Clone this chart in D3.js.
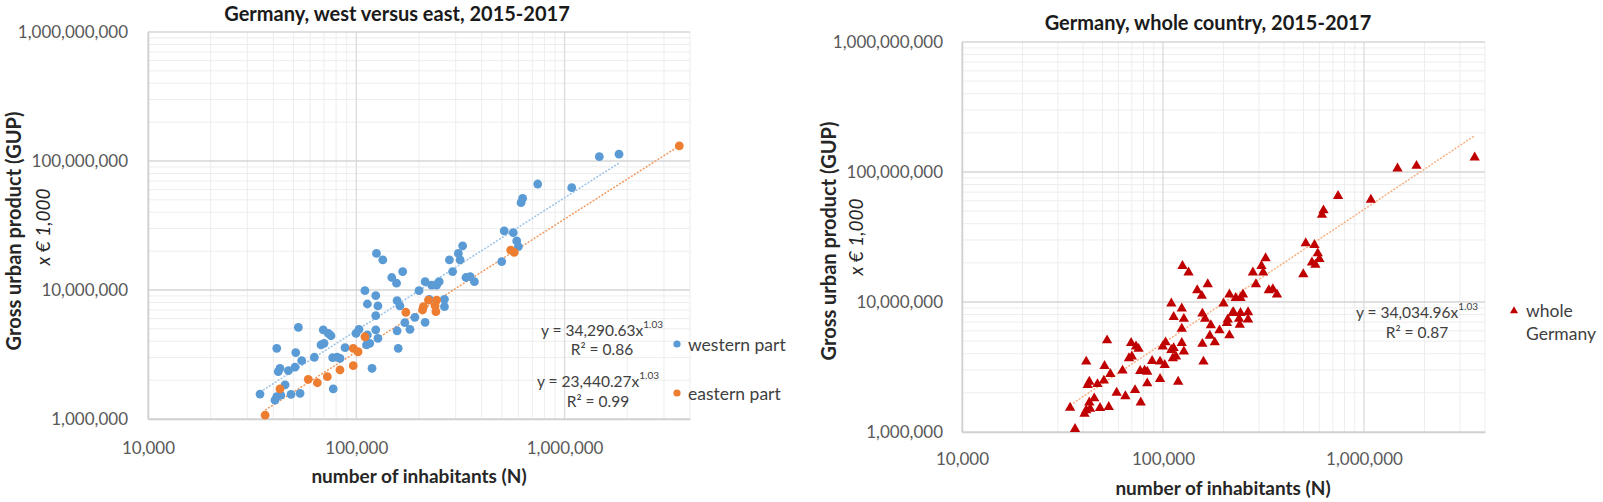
<!DOCTYPE html>
<html>
<head>
<meta charset="utf-8">
<script src="https://cdn.jsdelivr.net/npm/d3@7"></script>
<style>
  html, body { margin: 0; padding: 0; background: #ffffff; }
  svg { display: block; font-family: Lato, "Open Sans", sans-serif; }
</style>
</head>
<body>
<svg id="chart" width="1603" height="502"></svg>
<script>
// ---------------- DATA ----------------
// number of inhabitants (N) and gross urban product (x € 1,000)
const westInhabitants = [
  34500, 41500, 52700, 51200, 54700, 43000, 42200, 47200, 50800, 45500,
  41500, 40700, 43400, 48600, 53700, 62900, 67700, 70000, 69400, 73400,
  75600, 77000, 81000, 83500, 77500, 88300, 99700, 103000, 112000, 116000,
  119000, 124000, 127000, 124000, 110000, 113000, 124000, 127000, 148000, 156000,
  157000, 157000, 159000, 125000, 134000, 167000, 214000, 230000, 250000, 243000,
  200000, 162000, 224000, 265000, 265000, 191000, 214000, 171000, 181000, 113000,
  324000, 309000, 315000, 280000, 290000, 336000, 352000, 369000, 1468000, 1825000,
  743000, 1082000, 629000, 618000, 513000, 567000, 589000, 600000, 499000
];
const westGUP = [
  1560000, 3530000, 5140000, 3270000, 2830000, 2470000, 2330000, 2370000, 2520000, 1840000,
  1490000, 1400000, 1530000, 1550000, 1580000, 3010000, 3750000, 3860000, 4900000, 4610000,
  4420000, 2990000, 3010000, 2950000, 1710000, 3570000, 4610000, 4960000, 3750000, 3860000,
  2470000, 4900000, 4220000, 6320000, 9880000, 7790000, 9030000, 7520000, 12500000, 11300000,
  8260000, 4830000, 3530000, 19200000, 17100000, 13900000, 11600000, 10900000, 11600000, 10900000,
  9880000, 7520000, 8470000, 8470000, 7430000, 6140000, 5620000, 5580000, 4960000, 4480000,
  22000000, 19200000, 17100000, 17100000, 13900000, 12500000, 12700000, 11600000, 108000000, 113000000,
  66300000, 62100000, 51400000, 47500000, 28700000, 27800000, 24000000, 21700000, 16600000
];
const eastInhabitants = [
  36500, 43000, 58800, 65000, 72600, 83500, 96700, 96700, 102000, 110000,
  173000, 210000, 222000, 243000, 239000, 241000, 208000, 551000, 573000, 3554000
];
const eastGUP = [
  1070000, 1710000, 2030000, 1910000, 2130000, 2400000, 2590000, 3530000, 3320000, 4340000,
  6720000, 7430000, 8360000, 8360000, 7520000, 6790000, 7000000, 20400000, 19600000, 131000000
];

// power-law trendlines as printed on the chart (y = a · x^b, a given in €), plus R²
const westFit  = [34290.63, 1.03, 0.86];
const eastFit  = [23440.27, 1.03, 0.99];
const wholeFit = [34034.96, 1.03, 0.87];

const xDomain = [10000, 4000000];
const yDomain = [1000000, 1000000000];
const xTickLabels = [10000, 100000, 1000000];
const yTickLabels = [1000000, 10000000, 100000000, 1000000000];

const titles = ["Germany, west versus east, 2015-2017", "Germany, whole country, 2015-2017"];
const legendLabels = ["western part", "eastern part", "whole", "Germany"];

// ---------------- DRAWING ----------------
const svg = d3.select("#chart");
const fmt = d3.format(",");
const fmt2 = d3.format(",.2f");

function zip(xs, ys) { return xs.map((x, i) => ({ n: x, g: ys[i] })); }

function drawPanel(p) {
  const g = svg.append("g");
  const x = d3.scaleLog().domain(xDomain).range([p.left, p.right]);
  const y = d3.scaleLog().domain(yDomain).range([p.bottom, p.top]);

  // minor gridlines
  const xAll = x.ticks(), yAll = y.ticks();
  const isMajor = v => Math.abs(Math.log10(v) - Math.round(Math.log10(v))) < 1e-9;
  g.append("g").selectAll("line").data(xAll.filter(v => !isMajor(v))).join("line")
    .attr("x1", d => x(d)).attr("x2", d => x(d)).attr("y1", p.top).attr("y2", p.bottom)
    .attr("stroke", "#ededed").attr("stroke-width", 1);
  g.append("g").selectAll("line").data(yAll.filter(v => !isMajor(v))).join("line")
    .attr("y1", d => y(d)).attr("y2", d => y(d)).attr("x1", p.left).attr("x2", p.right)
    .attr("stroke", "#ededed").attr("stroke-width", 1);
  // major gridlines
  g.append("g").selectAll("line").data(xAll.filter(isMajor)).join("line")
    .attr("x1", d => x(d)).attr("x2", d => x(d)).attr("y1", p.top).attr("y2", p.bottom)
    .attr("stroke", "#dcdcdc").attr("stroke-width", 1.3);
  g.append("g").selectAll("line").data(yAll.filter(isMajor)).join("line")
    .attr("y1", d => y(d)).attr("y2", d => y(d)).attr("x1", p.left).attr("x2", p.right)
    .attr("stroke", "#d6d6d6").attr("stroke-width", 1.6);

  // axes
  const ay = g.append("g").attr("transform", `translate(${p.left},0)`)
    .call(d3.axisLeft(y).tickValues(yTickLabels).tickFormat(fmt).tickSize(0).tickPadding(p.left - p.yLabelRight));
  ay.select(".domain").attr("stroke", "#d0d0d0").attr("stroke-width", 1.5);
  ay.selectAll("text").attr("font-size", 17).attr("fill", "#595959").attr("font-family", "Lato, sans-serif");

  const ax = g.append("g").attr("transform", `translate(0,${p.bottom})`)
    .call(d3.axisBottom(x).tickValues(xTickLabels).tickFormat(fmt).tickSize(0));
  ax.select(".domain").attr("stroke", "#d0d0d0").attr("stroke-width", 1.5);
  ax.selectAll("text").attr("dy", null).attr("y", p.xLabelDy).attr("dominant-baseline", "central")
    .attr("font-size", 17).attr("fill", "#595959").attr("font-family", "Lato, sans-serif");

  // titles
  g.append("text").attr("x", p.titleX).attr("y", p.titleY).attr("text-anchor", "middle")
    .attr("dominant-baseline", "central").attr("font-weight", "bold").attr("font-size", 20)
    .attr("fill", "#1a1a1a").text(p.title);
  g.append("text").attr("transform", `translate(${p.yTitleX},${p.yTitleY}) rotate(-90)`)
    .attr("text-anchor", "middle").attr("dominant-baseline", "central")
    .attr("font-weight", "bold").attr("font-size", 20).attr("fill", "#262626")
    .text("Gross urban product (GUP)");
  g.append("text").attr("transform", `translate(${p.ySubX},${p.ySubY}) rotate(-90)`)
    .attr("text-anchor", "middle").attr("dominant-baseline", "central")
    .attr("font-style", "italic").attr("font-size", 19).attr("fill", "#262626")
    .text("x € 1,000");
  g.append("text").attr("x", p.xTitleX).attr("y", p.xTitleY).attr("text-anchor", "middle")
    .attr("dominant-baseline", "central").attr("font-weight", "bold").attr("font-size", 19)
    .attr("fill", "#262626").text("number of inhabitants (N)");

  return { g, x, y };
}

function trend(ctx, pts, fit, color) {
  const ns = pts.map(d => d.n);
  const [lo, hi] = d3.extent(ns);
  const f = n => (fit[0] / 1000) * Math.pow(n, fit[1]);
  const line = d3.line().x(d => ctx.x(d)).y(d => ctx.y(f(d)));
  ctx.g.append("path").attr("d", line([lo, hi])).attr("fill", "none")
    .attr("stroke", color).attr("stroke-width", 1.5).attr("stroke-dasharray", "2,1.5");
}

function equation(ctx, cx, cy, fit, gap) {
  const t = ctx.g.append("text").attr("x", cx).attr("y", cy).attr("text-anchor", "middle")
    .attr("dominant-baseline", "central").attr("font-size", 15.5).attr("fill", "#404040");
  t.append("tspan").text("y = " + fmt2(fit[0]) + "x");
  t.append("tspan").attr("font-size", 10).attr("dy", -6).text(d3.format(".2f")(fit[1]));
  ctx.g.append("text").attr("x", cx).attr("y", cy + gap).attr("text-anchor", "middle")
    .attr("dominant-baseline", "central").attr("font-size", 15.5).attr("fill", "#404040")
    .text("R² = " + d3.format(".2f")(fit[2]));
}

// ---- left panel ----
const west = zip(westInhabitants, westGUP);
const east = zip(eastInhabitants, eastGUP);
const L = drawPanel({
  left: 148, right: 690, top: 32, bottom: 419, yLabelRight: 128, xLabelDy: 28,
  title: titles[0], titleX: 397, titleY: 13,
  yTitleX: 13, yTitleY: 231, ySubX: 42, ySubY: 227, xTitleX: 419, xTitleY: 475
});
trend(L, west, westFit, "#9dc3e6");
trend(L, east, eastFit, "#f19a5f");
L.g.append("g").selectAll("circle").data(west).join("circle")
  .attr("cx", d => L.x(d.n)).attr("cy", d => L.y(d.g)).attr("r", 4.4).attr("fill", "#5b9bd5");
L.g.append("g").selectAll("circle").data(east).join("circle")
  .attr("cx", d => L.x(d.n)).attr("cy", d => L.y(d.g)).attr("r", 4.4).attr("fill", "#ed7d31");
equation(L, 602, 330, westFit, 19);
equation(L, 598, 381, eastFit, 20);
// legend
L.g.append("circle").attr("cx", 677).attr("cy", 344).attr("r", 3.6).attr("fill", "#5b9bd5");
L.g.append("circle").attr("cx", 677).attr("cy", 393).attr("r", 3.6).attr("fill", "#ed7d31");
L.g.append("text").attr("x", 688).attr("y", 344).attr("dominant-baseline", "central")
  .attr("font-size", 17.5).attr("fill", "#404040").text(legendLabels[0]);
L.g.append("text").attr("x", 688).attr("y", 393).attr("dominant-baseline", "central")
  .attr("font-size", 17.5).attr("fill", "#404040").text(legendLabels[1]);

// ---- right panel ----
const whole = west.concat(east);
const R = drawPanel({
  left: 962, right: 1485, top: 42, bottom: 432, yLabelRight: 943, xLabelDy: 26,
  title: titles[1], titleX: 1208, titleY: 22,
  yTitleX: 828, yTitleY: 241, ySubX: 855, ySubY: 237, xTitleX: 1223, xTitleY: 487
});
trend(R, whole, wholeFit, "#f4b183");
const tri = d3.symbol().type(d3.symbolTriangle).size(46);
R.g.append("g").selectAll("path").data(whole).join("path")
  .attr("transform", d => `translate(${R.x(d.n)},${R.y(d.g) + 0.8})`)
  .attr("d", tri).attr("fill", "#c00000");
equation(R, 1417, 312, wholeFit, 20);
R.g.append("path").attr("transform", "translate(1514,311)")
  .attr("d", d3.symbol().type(d3.symbolTriangle).size(28)).attr("fill", "#c00000");
R.g.append("text").attr("x", 1526).attr("y", 310).attr("dominant-baseline", "central")
  .attr("font-size", 17.5).attr("fill", "#404040").text(legendLabels[2]);
R.g.append("text").attr("x", 1526).attr("y", 333).attr("dominant-baseline", "central")
  .attr("font-size", 17.5).attr("fill", "#404040").text(legendLabels[3]);
</script>
</body>
</html>
